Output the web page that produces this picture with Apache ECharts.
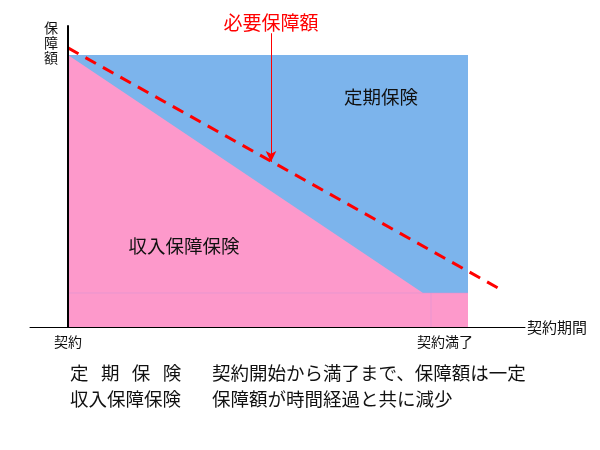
<!DOCTYPE html>
<html><head><meta charset="utf-8">
<script src="https://cdn.jsdelivr.net/npm/echarts@6/dist/echarts.min.js"></script>
<style>html,body{margin:0;padding:0;background:#fff}#c{width:600px;height:450px}</style>
</head><body><div id="c"></div>
<script>
// Data (x: contract time, 0 = 契約, 10 = 契約満了; y: coverage amount, 100 = initial)
const termInsurance = [[0, 100], [10, 100]];
const incomeInsurance = [[0, 100], [8.875, 12.5], [10, 12.5]];
const requiredAmount = [[0, 102.6], [10.9, 13.1]];
const arrowFrom = [5.075, 108];
const arrowTo = [5.075, 60.7];
const tickValues = [0, 9.425];
const tickLabels = ['契約', '契約満了'];
const bandLineH = [[0, 12.5], [10, 12.5]];
const bandLineV = [[9.075, 12.5], [9.075, 0]];

const FONT = 'Noto Sans CJK JP';
const F18 = '18.5px "' + FONT + '"';
const chart = echarts.init(document.getElementById('c'));
chart.setOption({
  backgroundColor: '#fff',
  animation: false,
  textStyle: { fontFamily: FONT },
  grid: { left: 30, right: 75, top: 26, bottom: 123, containLabel: false },
  xAxis: {
    type: 'value', min: -0.95, max: 11.425, z: 10,
    splitLine: { show: false },
    axisLine: { show: true, onZero: true, lineStyle: { color: '#000', width: 1 } },
    axisTick: { show: false },
    axisLabel: {
      show: true, margin: 8, fontSize: 14, color: '#111', fontFamily: FONT,
      customValues: tickValues,
      formatter: v => { const i = tickValues.findIndex(t => Math.abs(t - v) < 1e-6); return i >= 0 ? tickLabels[i] : ''; }
    },
    name: '契約期間', nameLocation: 'end', nameGap: 2,
    nameTextStyle: { fontSize: 15, color: '#111', fontFamily: FONT, verticalAlign: 'middle', align: 'left' }
  },
  yAxis: {
    type: 'value', min: 0, max: 110.66, z: 10,
    splitLine: { show: false },
    axisLine: { show: true, onZero: true, lineStyle: { color: '#000', width: 2 } },
    axisTick: { show: false },
    axisLabel: { show: false }
  },
  graphic: [
    { type: 'text', z: 100, left: 44, top: 20, style: { text: '保\n障\n額', font: '14px "' + FONT + '"', fill: '#111', lineHeight: 15 } },
    { type: 'text', z: 100, x: 381, y: 97, style: { text: '定期保険', font: F18, fill: '#111', align: 'center', verticalAlign: 'middle' } },
    { type: 'text', z: 100, x: 184, y: 246, style: { text: '収入保障保険', font: F18, fill: '#111', align: 'center', verticalAlign: 'middle' } },
    { type: 'text', z: 100, x: 70, y: 373, style: { text: '定   期   保   険', font: F18, fill: '#111', verticalAlign: 'middle' } },
    { type: 'text', z: 100, x: 212, y: 373, style: { text: '契約開始から満了まで、保障額は一定', font: F18, fill: '#111', verticalAlign: 'middle' } },
    { type: 'text', z: 100, x: 70, y: 399, style: { text: '収入保障保険', font: F18, fill: '#111', verticalAlign: 'middle' } },
    { type: 'text', z: 100, x: 212, y: 399, style: { text: '保障額が時間経過と共に減少', font: F18, fill: '#111', verticalAlign: 'middle' } }
  ],
  series: [
    { type: 'line', data: termInsurance, symbol: 'none', lineStyle: { opacity: 0, width: 0 },
      areaStyle: { color: '#7cb4ec', opacity: 1 }, z: 1 },
    { type: 'line', data: incomeInsurance, symbol: 'none', lineStyle: { opacity: 0, width: 0 },
      areaStyle: { color: '#fd99cb', opacity: 1 }, z: 2 },
    { type: 'line', data: bandLineH, symbol: 'none', lineStyle: { color: 'rgba(215,150,215,0.5)', width: 1 }, z: 3 },
    { type: 'line', data: bandLineV, symbol: 'none', lineStyle: { color: 'rgba(215,150,215,0.5)', width: 1 }, z: 3 },
    { type: 'line', data: requiredAmount, symbol: 'none', z: 5,
      lineStyle: { color: '#ff0000', width: 3, type: [12, 8] },
      markLine: {
        silent: true, symbol: ['none', 'arrow'], symbolSize: [8, 11],
        lineStyle: { color: '#ff0000', width: 1, type: 'solid' },
        label: { show: true, position: 'start', distance: 1, formatter: '必要保障額', color: '#ff0000', fontSize: 19, fontWeight: 'normal', fontFamily: FONT },
        data: [[{ coord: arrowFrom }, { coord: arrowTo }]]
      }
    }
  ]
});
</script></body></html>
